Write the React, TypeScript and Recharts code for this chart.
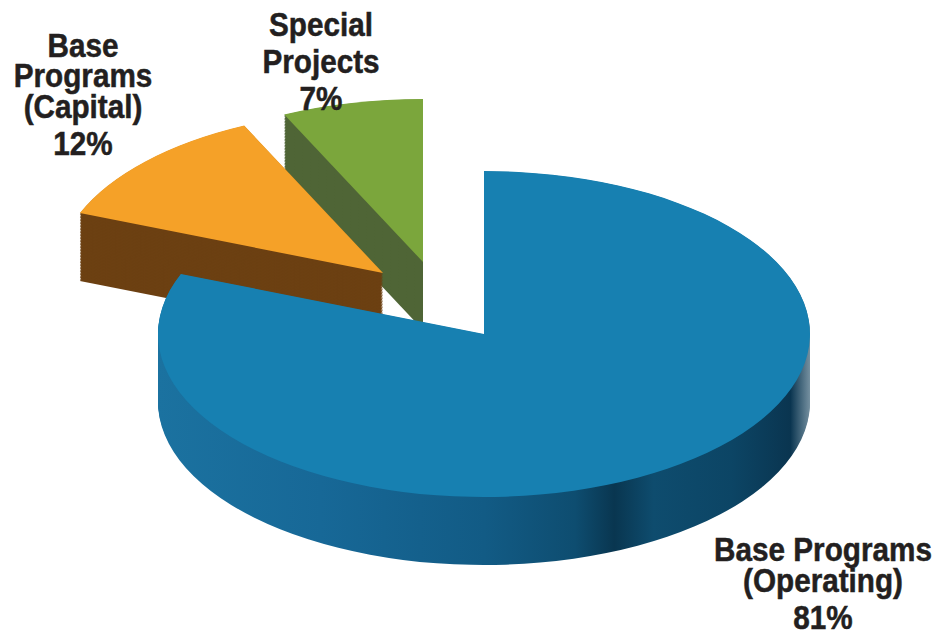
import { PieChart, Pie, Cell } from "recharts";

const categories = ["Base Programs (Operating)", "Base Programs (Capital)", "Special Projects"];
const shares = [81, 12, 7];
const labelLines = [
  ["Base Programs", "(Operating)"],
  ["Base", "Programs", "(Capital)"],
  ["Special", "Projects"],
];

const topColors = ["#1780b1", "#f5a128", "#7ba63c"];
const sideColors = ["url(#blueRim)", "#6c4012", "#4f6536"];

const data = categories.map((name, i) => ({ name, value: shares[i] }));

const W = 937;
const H = 633;
const SQUASH = 0.5; // vertical tilt of the disc
const R = 326;
const DEPTH = 136; // rim height before squash
const STEP = 3;

// tip of each slice on the page (exploded slices sit up-left)
const tips = [
  { x: 484, y: 334 },
  { x: 383, y: 273 },
  { x: 423, y: 262 },
];
const drawOrder = [2, 1, 0];

const labelPos = [
  { x: 823, baselines: [561, 592, 629] },
  { x: 83, baselines: [57, 87, 118, 155] },
  { x: 321, baselines: [36.5, 73.5, 110] },
];

function layer(slice: number, d: number, color: string, key: string) {
  return (
    <Pie
      key={key}
      data={data}
      dataKey="value"
      cx={tips[slice].x}
      cy={tips[slice].y / SQUASH + d}
      innerRadius={0}
      outerRadius={R}
      startAngle={90}
      endAngle={-270}
      stroke="none"
      label={false}
      labelLine={false}
      isAnimationActive={false}
    >
      {data.map((_, j) => (
        <Cell key={j} fill={j === slice ? color : "transparent"} />
      ))}
    </Pie>
  );
}

export default function App() {
  const pies: any[] = [];
  drawOrder.forEach((s) => {
    for (let d = DEPTH; d > 0; d -= STEP) pies.push(layer(s, d, sideColors[s], `side-${s}-${d}`));
    pies.push(layer(s, 0, topColors[s], `top-${s}`));
  });

  return (
    <div style={{ position: "absolute", left: 0, top: 0, width: W, height: H, overflow: "hidden", background: "#fff" }}>
      <svg width={0} height={0} style={{ position: "absolute" }}>
        <defs>
          <linearGradient id="blueRim" x1="0" y1="0" x2="1" y2="0">
            <stop offset="0" stopColor="#1b72a0" />
            <stop offset="0.25" stopColor="#176897" />
            <stop offset="0.5" stopColor="#125b85" />
            <stop offset="0.64" stopColor="#0e4d70" />
            <stop offset="0.7" stopColor="#093650" />
            <stop offset="0.76" stopColor="#0e4c6e" />
            <stop offset="0.88" stopColor="#0c4565" />
            <stop offset="0.97" stopColor="#0a3550" />
            <stop offset="1" stopColor="#7590a0" />
          </linearGradient>
        </defs>
      </svg>
      <div
        style={{
          position: "absolute",
          left: 0,
          top: 0,
          width: W,
          height: H / SQUASH,
          transform: `scaleY(${SQUASH})`,
          transformOrigin: "0 0",
        }}
      >
        <PieChart width={W} height={H / SQUASH} margin={{ top: 0, right: 0, bottom: 0, left: 0 }}>
          {pies}
        </PieChart>
      </div>
      <svg width={W} height={H} style={{ position: "absolute", left: 0, top: 0, pointerEvents: "none" }}>
        {labelPos.map((p, i) =>
          [...labelLines[i], `${shares[i]}%`].map((line, k) => (
            <text
              key={`${i}-${k}`}
              x={0}
              y={p.baselines[k]}
              transform={`translate(${p.x},0) scale(0.9,1)`}
              textAnchor="middle"
              fontFamily="'Liberation Sans', Arial, sans-serif"
              fontWeight="bold"
              fontSize={33}
              fill="#231f20"
              stroke="#231f20"
              strokeWidth={0.5}
            >
              {line}
            </text>
          ))
        )}
      </svg>
    </div>
  );
}
